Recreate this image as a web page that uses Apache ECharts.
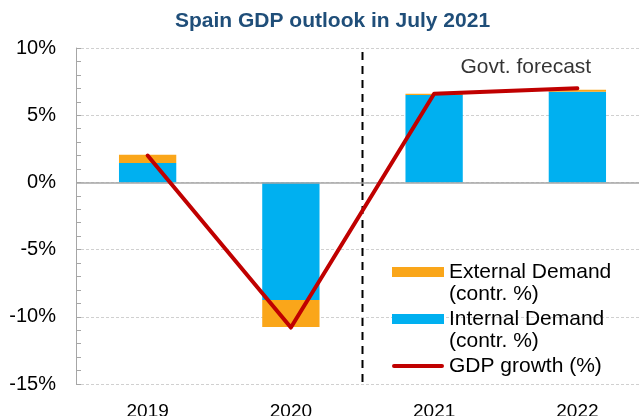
<!DOCTYPE html>
<html>
<head>
<meta charset="utf-8">
<title>Spain GDP outlook</title>
<script src="https://cdn.jsdelivr.net/npm/echarts@6/dist/echarts.min.js"></script>
<style>
    html, body { margin: 0; padding: 0; background: #fff; }
    #chart { width: 639px; height: 416px; }
</style>
</head>
<body>
<div id="chart"></div>
<script>
// 数据
var years = ['2019', '2020', '2021', '2022'];
var internalDemand = [1.45, -8.75, 6.5, 6.75];
var externalDemand = [0.6, -2.0, 0.1, 0.15];
var gdpGrowth = [2.0, -10.8, 6.6, 7.0];
// 预测分隔线 (x 为类目序号位置)
var forecastLine = [[2, 9.7], [2, -15]];
var forecastLabel = [[3.14, 8.6]];

var font = 'Arial, "Liberation Sans", sans-serif';
var chart = echarts.init(document.getElementById('chart'), null, {renderer: 'canvas'});

var option = {
    animation: false,
    backgroundColor: '#fff',
    title: {
        text: 'Spain GDP outlook in July 2021',
        left: 170,
        top: 6,
        textStyle: {
            fontFamily: font,
            fontSize: 21,
            fontWeight: 'bold',
            color: '#1F4E79'
        }
    },
    legend: {
        orient: 'vertical',
        left: 392,
        top: 239,
        padding: 0,
        itemGap: -19,
        itemWidth: 52,
        itemHeight: 10,
        selectedMode: false,
        itemStyle: {borderWidth: 0},
        textStyle: {
            fontFamily: font,
            fontSize: 21,
            color: '#000',
            lineHeight: 22
        },
        // 空行让第一行文字与图标对齐
        formatter: function (name) {
            if (name === 'GDP growth (%)') {
                return ' \n' + name + '\n ';
            }
            return ' \n' + name + '\n(contr. %)';
        },
        data: [
            {name: 'External Demand', icon: 'rect'},
            {name: 'Internal Demand', icon: 'rect'},
            {
                name: 'GDP growth (%)',
                icon: 'path://M0,0L52,0M2,3H50A2,2 0 0 1 50,7H2A2,2 0 0 1 2,3ZM0,10L52,10'
            }
        ]
    },
    grid: {
        left: 76,
        right: -10,
        top: 48,
        bottom: 32,
        outerBoundsMode: 'none'
    },
    xAxis: [
        {
            type: 'category',
            data: years,
            axisLine: {show: false, onZero: false},
            axisTick: {show: false},
            axisLabel: {
                margin: 18,
                fontFamily: font,
                fontSize: 19,
                color: '#000'
            }
        },
        {
            // 隐藏数值轴, 用于分隔线和文字
            type: 'value',
            min: 0,
            max: 4,
            show: false
        }
    ],
    yAxis: {
        type: 'value',
        min: -15,
        max: 10,
        interval: 5,
        axisLine: {show: true, lineStyle: {color: '#A6A6A6', width: 1}},
        axisTick: {show: true, inside: true, length: 5, lineStyle: {color: '#A6A6A6'}},
        minorTick: {show: true, splitNumber: 5, length: 5, lineStyle: {color: '#A6A6A6'}},
        axisLabel: {
            margin: 20,
            fontFamily: font,
            fontSize: 20,
            color: '#000',
            formatter: '{value}%'
        },
        splitLine: {
            show: true,
            lineStyle: {color: '#D0D0D0', type: [3, 2], width: 1}
        }
    },
    series: [
        {
            name: 'Internal Demand',
            type: 'bar',
            stack: 'contr',
            barWidth: '40%',
            itemStyle: {color: '#00B0F0'},
            data: internalDemand,
            markLine: {
                silent: true,
                symbol: 'none',
                label: {show: false},
                lineStyle: {color: '#A6A6A6', type: 'solid', width: 1.5},
                data: [{yAxis: 0}]
            }
        },
        {
            name: 'External Demand',
            type: 'bar',
            stack: 'contr',
            barWidth: '40%',
            itemStyle: {color: '#FAA61A'},
            data: externalDemand
        },
        {
            name: 'GDP growth (%)',
            type: 'line',
            symbol: 'none',
            z: 5,
            color: '#C00000',
            lineStyle: {color: '#C00000', width: 4, cap: 'round', join: 'round'},
            data: gdpGrowth
        },
        {
            name: 'forecast',
            type: 'line',
            xAxisIndex: 1,
            symbol: 'none',
            silent: true,
            z: 4,
            lineStyle: {color: '#000', width: 2, type: [8, 6]},
            data: forecastLine
        },
        {
            name: 'forecastLabel',
            type: 'scatter',
            xAxisIndex: 1,
            symbolSize: 0,
            silent: true,
            label: {
                show: true,
                position: 'inside',
                formatter: 'Govt. forecast',
                fontFamily: font,
                fontSize: 21,
                color: '#000'
            },
            data: forecastLabel
        }
    ]
};
chart.setOption(option);
window.addEventListener("resize", function () {
    chart.resize();
});
</script>
</body>
</html>
